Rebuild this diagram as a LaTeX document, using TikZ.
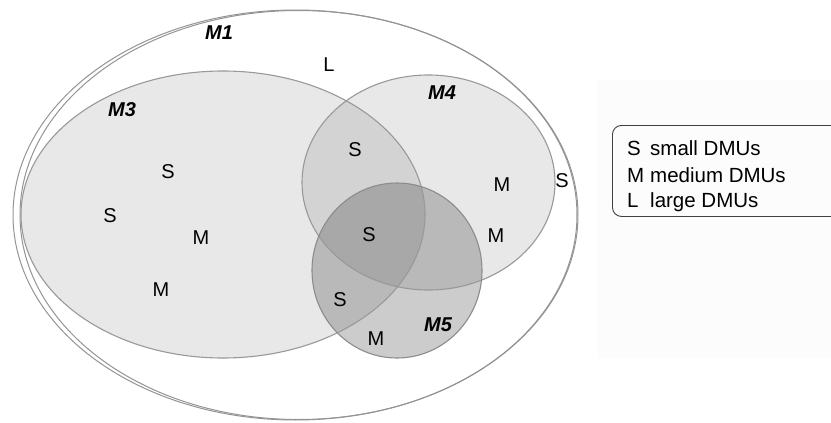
\documentclass[tikz,border=0pt]{standalone}
\usepackage{fontspec}
\setmainfont{Liberation Sans}
\begin{document}
\begin{tikzpicture}[x=1pt,y=-1pt,
  lab/.style={font=\fontsize{20}{24}\selectfont, inner sep=0pt},
  setlab/.style={font=\fontsize{20}{24}\selectfont\bfseries\itshape, inner sep=0pt},
  legtxt/.style={font=\fontsize{20.5}{24}\selectfont, inner sep=0pt, anchor=base west},
  outerline/.style={draw=black!42, line width=1pt},
  setline/.style={draw=black!40, line width=1.1pt},
  setfill/.style={fill=black, fill opacity=0.09}]
\useasboundingbox (0,0) rectangle (831,423);
\clip (0,0) rectangle (831,423);
\fill[white] (0,0) rectangle (831,423);
\fill[black!1] (598,80) rectangle (831,358);
% outer sets
\draw[outerline] (295.5,215) ellipse [x radius=282.5pt, y radius=205pt];
\draw[outerline] (298.5,215) ellipse [x radius=278.5pt, y radius=204.5pt];
% fills
\fill[setfill] (223,214.5) ellipse [x radius=202pt, y radius=143.5pt];
\fill[setfill] (428.5,182.5) ellipse [x radius=126.5pt, y radius=107.5pt];
\fill[fill=black, fill opacity=0.2] (397,270.5) ellipse [x radius=85pt, y radius=87.5pt];
% borders
\draw[setline] (223,214.5) ellipse [x radius=202pt, y radius=143.5pt];
\draw[setline] (428.5,182.5) ellipse [x radius=126.5pt, y radius=107.5pt];
\draw[setline, draw=black!45] (397,270.5) ellipse [x radius=85pt, y radius=87.5pt];
% set labels
\node[setlab] (m1) at (219,33) {M1};
\node[setlab] (m3) at (122,110) {M3};
\node[setlab] (m4) at (442,93) {M4};
\node[setlab] (m5) at (438,325) {M5};
% element labels
\node[lab] (l1) at (329,65) {L};
\node[lab] (s1) at (355,150) {S};
\node[lab] (s2) at (168,172) {S};
\node[lab] (s3) at (110,216) {S};
\node[lab] (m31) at (201,238) {M};
\node[lab] (m32) at (161,290) {M};
\node[lab] (m41) at (502,185) {M};
\node[lab] (s4) at (562,181) {S};
\node[lab] (s5) at (369,235) {S};
\node[lab] (m42) at (496,236) {M};
\node[lab] (s6) at (340,300) {S};
\node[lab] (m51) at (376,339) {M};
% legend
\node[draw=black!75, line width=0.9pt, rounded corners=9pt, minimum width=240pt, minimum height=91pt, anchor=north west, inner sep=0pt] (legend) at (612,125) {};
\node[legtxt] (ks) at (627,155) {S};
\node[legtxt] (vs) at (650,155) {small DMUs};
\node[legtxt] (km) at (627,182) {M};
\node[legtxt] (vm) at (650,182) {medium DMUs};
\node[legtxt] (kl) at (627,207) {L};
\node[legtxt] (vl) at (650,207) {large DMUs};
\end{tikzpicture}
\end{document}
